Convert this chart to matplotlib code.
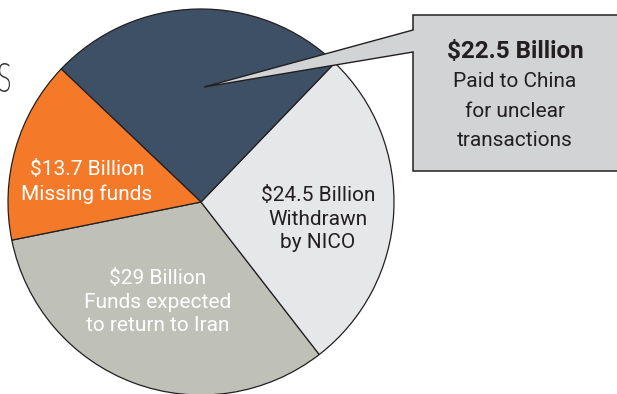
import matplotlib
matplotlib.use("Agg")
import matplotlib.pyplot as plt
from matplotlib.patches import Polygon, Rectangle, PathPatch
from matplotlib.textpath import TextPath
from matplotlib.font_manager import FontProperties
from matplotlib.transforms import Affine2D

# Funds by destination, in billions of dollars (counter-clockwise from the left)
categories = ["Funds expected to return to Iran", "Withdrawn by NICO",
              "Paid to China for unclear transactions", "Missing funds"]
amounts = [29.0, 24.5, 22.5, 13.7]
amount_labels = ["$29 Billion", "$24.5 Billion", "$22.5 Billion", "$13.7 Billion"]
descriptions = ["Funds expected\nto return to Iran", "Withdrawn\nby NICO",
                "Paid to China\nfor unclear\ntransactions", "Missing funds"]
colors = ["#BFC0B8", "#E6E7E9", "#3E5066", "#F47A2A"]
text_colors = ["white", "#231F20", "#231F20", "white"]

FONT = "Roboto"
EDGE = "#231F20"

W, H = 617, 394
fig = plt.figure(figsize=(W / 100, H / 100), dpi=100)
ax = fig.add_axes([0, 0, 1, 1])

center = (201, H - 202)
radius = 193
ax.pie(amounts, colors=colors, startangle=191.4, counterclock=True,
       center=center, radius=radius, frame=True,
       wedgeprops=dict(edgecolor=EDGE, linewidth=0.9))
ax.set_xlim(0, W)
ax.set_ylim(0, H)
ax.set_aspect("equal")
ax.axis("off")

# In-slice labels
label_pos = {0: (158, H - 302), 1: (318, H - 219), 3: (87, H - 182)}
for i, (x, y) in label_pos.items():
    ax.text(x, y, amount_labels[i] + "\n" + descriptions[i], ha="center",
            va="center", fontsize=15, family=FONT, color=text_colors[i],
            linespacing=1.3, zorder=5)

# Callout box for the China payments
box_color = "#D1D3D4"
bx0, by0, bx1, by1 = 413, H - 171, 620, H - 15
ax.add_patch(Rectangle((bx0, by0), bx1 - bx0, by1 - by0, facecolor=box_color,
                       edgecolor=EDGE, linewidth=1.1, zorder=6))
tip = (204, H - 87)
top = (413, H - 30)
bot = (413, H - 52)
ax.add_patch(Polygon([top, tip, bot, (416, bot[1]), (416, top[1])], closed=True,
                     facecolor=box_color, edgecolor="none", zorder=7))
ax.plot([top[0], tip[0], bot[0]], [top[1], tip[1], bot[1]], color=EDGE,
        linewidth=1.0, zorder=8, solid_joinstyle="miter")

bcx = (bx0 + 617) / 2
ax.text(bcx, H - 51, amount_labels[2], ha="center", va="center", fontsize=17.5,
        family=FONT, fontweight="bold", color=text_colors[2], zorder=9)
ax.text(bcx, H - 111, descriptions[2], ha="center", va="center", fontsize=15,
        family=FONT, color=text_colors[2], linespacing=1.7, zorder=9)

# Trailing letter of the heading at the left margin
tp = TextPath((0, 0), "S", size=40, prop=FontProperties(family="DejaVu Sans", weight="light"))
ext = tp.get_extents()
tr = Affine2D().translate(-ext.x0, -ext.y0).scale(11 / ext.width, 29 / ext.height).translate(-1, H - 92)
ax.add_patch(PathPatch(tr.transform_path(tp), facecolor="#333333", edgecolor="none", zorder=4))

fig.savefig("out.png", dpi=100)
